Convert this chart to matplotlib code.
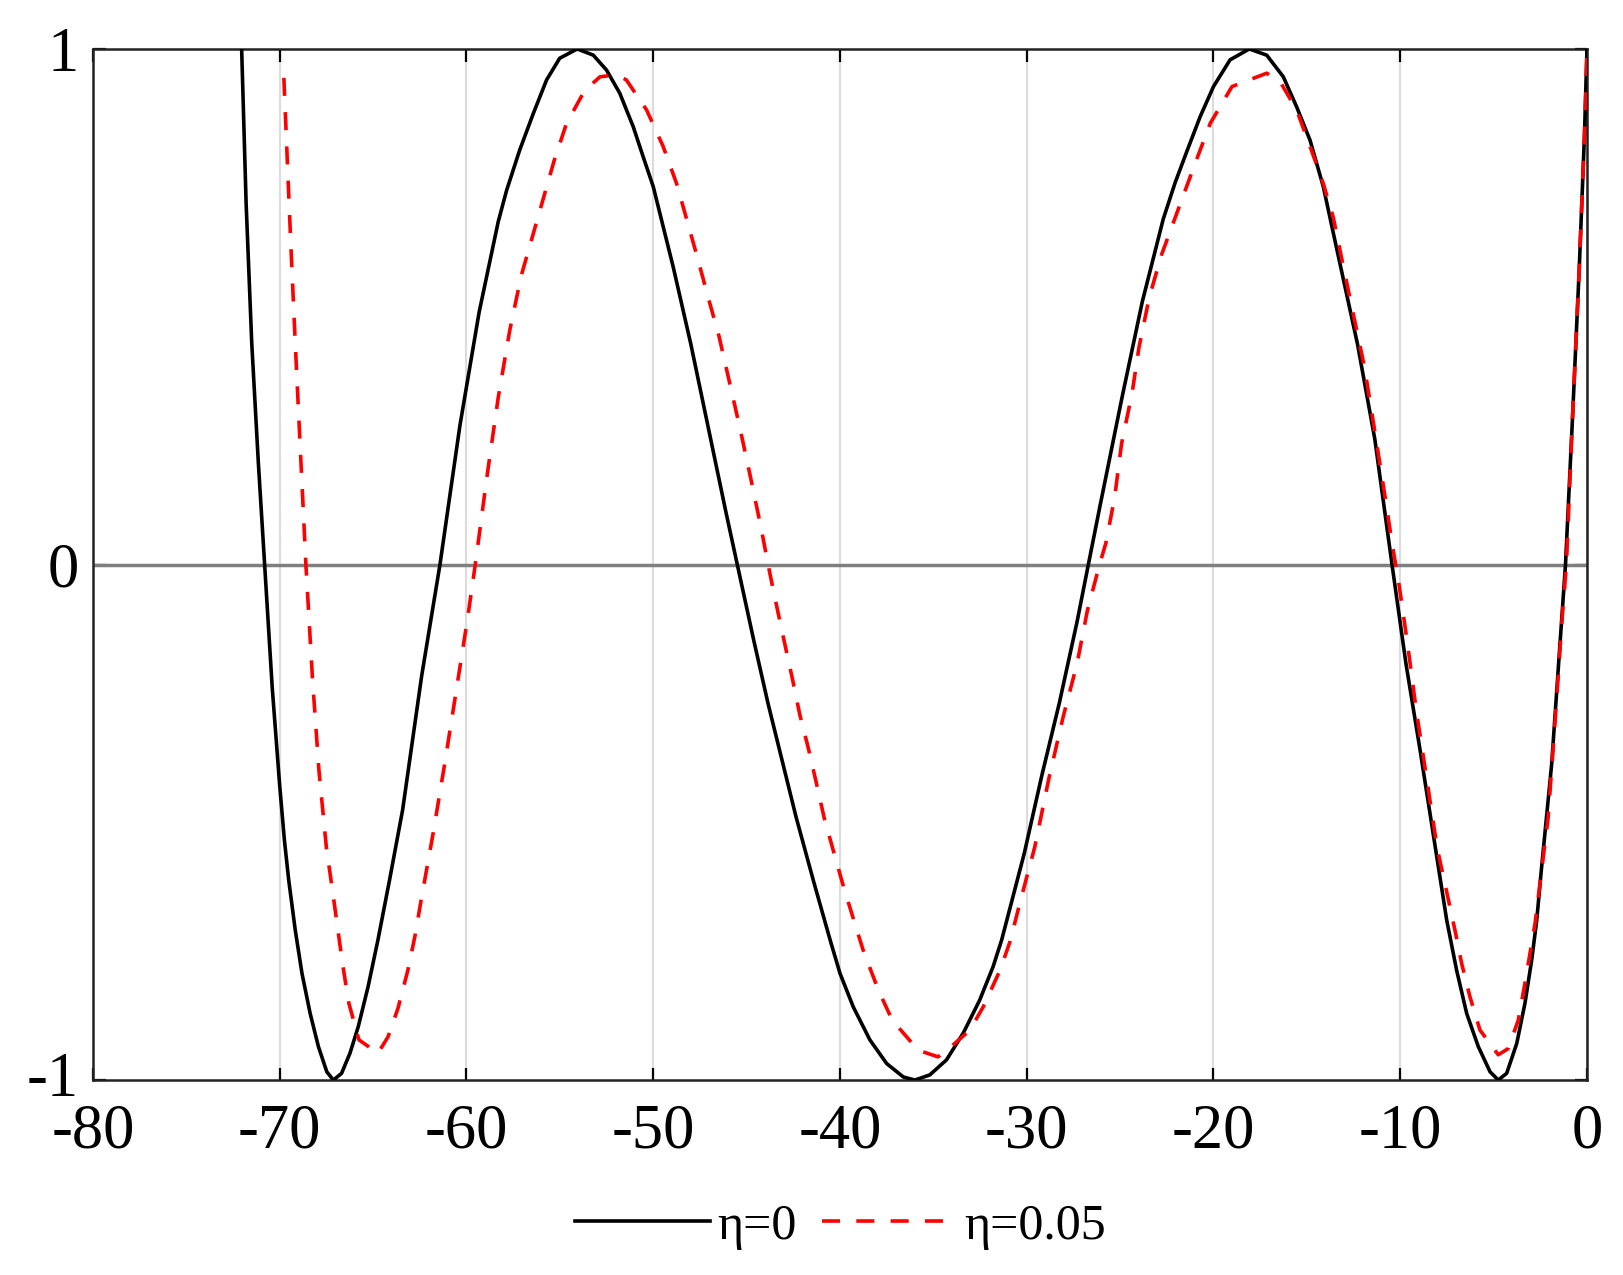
import numpy as np
import matplotlib.pyplot as plt
from matplotlib.transforms import ScaledTranslation

# values
x_eta0 = [-72.04, -71.8, -71.5, -71.15, -70.81, -70.4, -70.0, -69.75, -69.52, -69.17,
          -68.81, -68.37, -67.93, -67.48, -67.13, -66.69, -66.24, -65.8, -65.27, -64.74,
          -64.12, -63.42, -62.4, -61.42, -60.35, -59.32, -58.3, -57.85, -57.15, -56.42,
          -55.71, -55.01, -54.07, -53.21, -52.5, -51.79, -51.07, -50.54, -50.0, -48.93,
          -47.99, -47.05, -46.11, -45.5, -44.6, -43.85, -43.1, -42.35, -41.41, -40.53,
          -40.0, -39.29, -38.4, -37.5, -36.61, -35.99, -35.19, -34.3, -33.4, -32.52,
          -31.8, -31.34, -30.13, -29.19, -28.25, -27.31, -26.7, -26.04, -24.92, -23.81,
          -22.69, -22.06, -21.44, -20.71, -20.0, -19.11, -18.08, -17.15, -16.26, -15.55,
          -14.83, -14.12, -13.41, -12.29, -11.36, -10.44, -9.69, -8.95, -7.51, -6.98,
          -6.44, -5.82, -5.19, -4.75, -4.3, -3.76, -3.32, -2.96, -2.69, -2.45,
          -1.89, -1.52, -1.15, -0.78, -0.41, -0.13, 0.0]
y_eta0 = [1.0, 0.7, 0.43, 0.2, 0.0, -0.24, -0.43, -0.535, -0.612, -0.709,
          -0.793, -0.871, -0.935, -0.984, -1.0, -0.987, -0.948, -0.897, -0.819, -0.728,
          -0.612, -0.476, -0.216, 0.0, 0.27, 0.49, 0.665, 0.726, 0.804, 0.875,
          0.94, 0.982, 1.0, 0.988, 0.959, 0.914, 0.849, 0.791, 0.733, 0.577,
          0.428, 0.265, 0.102, 0.0, -0.15, -0.27, -0.38, -0.49, -0.615, -0.728,
          -0.793, -0.858, -0.922, -0.968, -0.994, -1.0, -0.99, -0.961, -0.909, -0.845,
          -0.78, -0.728, -0.56, -0.409, -0.268, -0.112, 0.0, 0.12, 0.32, 0.51,
          0.67, 0.74, 0.8, 0.869, 0.927, 0.979, 1.0, 0.988, 0.946, 0.888,
          0.823, 0.733, 0.614, 0.428, 0.243, 0.0, -0.193, -0.357, -0.69, -0.787,
          -0.871, -0.935, -0.984, -1.0, -0.987, -0.929, -0.851, -0.767, -0.69, -0.595,
          -0.387, -0.193, 0.0, 0.28, 0.577, 0.837, 1.0]

x_eta005 = [-69.78, -69.58, -69.37, -69.17, -68.96, -68.6, -68.25, -67.9, -67.5, -67.13,
            -66.86, -66.6, -66.3, -65.76, -64.74, -64.2, -63.67, -63.14, -62.75, -62.43,
            -61.78, -61.17, -60.55, -59.94, -59.53, -58.91, -58.3, -57.68, -57.07, -55.31,
            -54.64, -53.66, -52.85, -51.96, -51.44, -50.36, -49.47, -48.75, -48.18, -47.61,
            -47.05, -46.48, -45.92, -45.36, -44.79, -44.23, -43.85, -43.57, -43.1, -42.54,
            -42.16, -41.69, -41.22, -40.85, -40.28, -39.81, -39.25, -38.76, -37.95, -37.2,
            -36.41, -35.82, -34.75, -33.95, -33.04, -32.33, -31.43, -30.9, -30.32, -29.57,
            -28.82, -28.06, -27.31, -26.75, -26.1, -25.76, -25.29, -24.92, -24.36, -23.99,
            -23.44, -22.79, -21.44, -20.91, -20.17, -19.01, -17.15, -16.44, -15.55, -14.83,
            -14.12, -13.59, -13.04, -12.48, -11.92, -11.36, -10.81, -10.44, -10.06, -9.6,
            -9.14, -8.58, -8.02, -7.07, -6.71, -6.27, -5.73, -4.75, -4.22, -3.68,
            -3.32, -3.05, -2.78, -2.08, -1.71, -1.33, -1.1, -0.78, -0.41, -0.13,
            0.0]
y_eta005 = [0.944, 0.77, 0.59, 0.43, 0.27, 0.0, -0.22, -0.4, -0.55, -0.644,
            -0.716, -0.783, -0.851, -0.922, -0.948, -0.916, -0.861, -0.787, -0.719, -0.651,
            -0.52, -0.387, -0.245, -0.104, 0.0, 0.169, 0.324, 0.455, 0.56, 0.783,
            0.856, 0.92, 0.946, 0.95, 0.94, 0.882, 0.811, 0.739, 0.666, 0.592,
            0.517, 0.443, 0.354, 0.265, 0.169, 0.072, 0.0, -0.05, -0.13, -0.223,
            -0.29, -0.357, -0.431, -0.491, -0.565, -0.625, -0.691, -0.748, -0.825, -0.884,
            -0.917, -0.942, -0.955, -0.932, -0.903, -0.858, -0.787, -0.732, -0.65, -0.548,
            -0.416, -0.297, -0.193, -0.089, 0.0, 0.042, 0.131, 0.235, 0.332, 0.421,
            0.518, 0.6, 0.733, 0.785, 0.856, 0.927, 0.953, 0.937, 0.882, 0.811,
            0.739, 0.674, 0.577, 0.48, 0.384, 0.258, 0.131, 0.042, -0.04, -0.156,
            -0.283, -0.416, -0.55, -0.709, -0.774, -0.838, -0.903, -0.951, -0.939, -0.884,
            -0.812, -0.754, -0.696, -0.491, -0.305, -0.104, 0.0, 0.28, 0.577, 0.837,
            0.99]

labels = ['η=0', 'η=0.05']
x_ticks = [-80, -70, -60, -50, -40, -30, -20, -10, 0]
y_ticks = [-1, 0, 1]

plt.rcParams['font.family'] = ['Liberation Serif', 'DejaVu Serif']

fig = plt.figure(figsize=(16.23, 12.75), dpi=100)
ax = fig.add_axes([0.0573, 0.1529, 0.9205, 0.8087])

ax.plot(x_eta0, y_eta0, color='black', lw=2.6, label=labels[0], zorder=3)
ax.plot(x_eta005, y_eta005, color='red', lw=2.6, ls=(0, (5, 4.5)), label=labels[1], zorder=4)
ax.axhline(0, color='#7f7f7f', lw=2.5, zorder=2)

ax.set_xlim(-80, 0)
ax.set_ylim(-1, 1)
ax.set_xticks(x_ticks)
ax.set_yticks(y_ticks)
ax.set_xticklabels([str(v) for v in x_ticks])
ax.set_yticklabels([str(v) for v in y_ticks])
ax.grid(axis='x', color='#dcdcdc', lw=1.5, zorder=1)
ax.tick_params(direction='in', length=9, width=1.6, labelsize=45, top=True, right=True)
ax.tick_params(axis='x', pad=17)
ax.tick_params(axis='y', pad=10)
for s in ax.spines.values():
    s.set_linewidth(1.8)
    s.set_color('#222222')

# lift the "-1" label a little so it clears "-80"
lab = ax.yaxis.get_major_ticks()[0].label1
lab.set_transform(lab.get_transform() + ScaledTranslation(0, 4 / 72, fig.dpi_scale_trans))

fig.legend(loc='center', bbox_to_anchor=(0.518, 0.038), ncol=2, frameon=False,
           fontsize=36, handlelength=2.7, handletextpad=0.15, columnspacing=0.5)

fig.savefig('out.png', dpi=100)
